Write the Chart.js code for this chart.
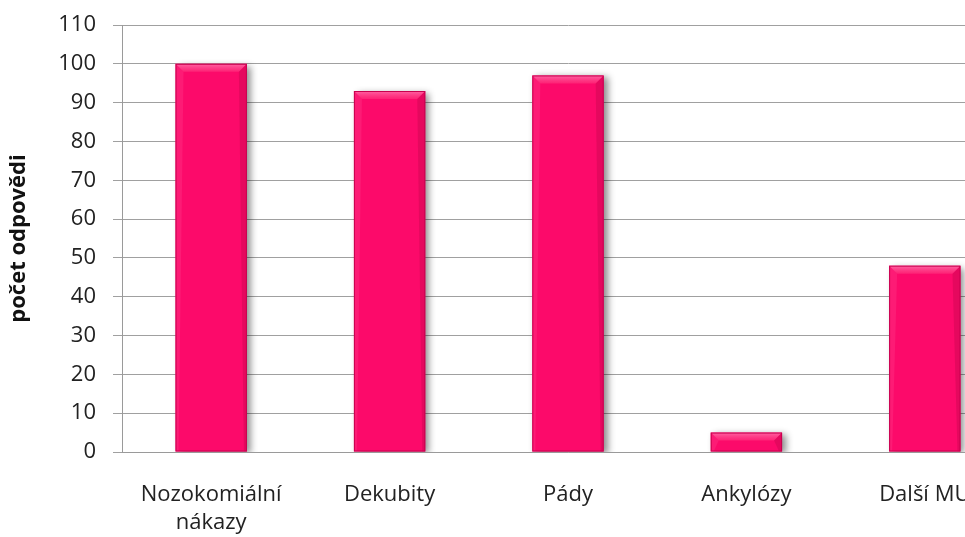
<!DOCTYPE html>
<html><head><meta charset="utf-8">
<script src="https://cdn.jsdelivr.net/npm/chart.js@4/dist/chart.umd.min.js"></script>
<style>
html,body{margin:0;padding:0;background:#fff;overflow:hidden;width:965px;height:537px;}
#wrap{position:relative;width:1020px;height:537px;}
</style></head><body>
<div id="wrap"><canvas id="c" width="1020" height="537"></canvas></div>
<script>
const categories = [['Nozokomiální','nákazy'], 'Dekubity', 'Pády', 'Ankylózy', 'Další MU'];
const values = [100, 93, 97, 5, 48];
const yTicks = [0,10,20,30,40,50,60,70,80,90,100,110];
const yTitle = 'počet odpovědi';

const FONT = '"Open Sans", "Noto Sans", sans-serif';

const shadowPlugin = {
  id: 'shadow',
  beforeDatasetsDraw(chart) {
    const ctx = chart.ctx;
    ctx.save();
    ctx.shadowColor = 'rgba(0,0,0,0.45)';
    ctx.shadowBlur = 7;
    ctx.shadowOffsetX = 4;
    ctx.shadowOffsetY = 2;
  },
  afterDatasetsDraw(chart) {
    const ctx = chart.ctx;
    ctx.restore();
    const meta = chart.getDatasetMeta(0);
    meta.data.forEach(bar => {
      const p = bar.getProps(['x','y','base','width'], true);
      const l = p.x - p.width/2, r = p.x + p.width/2, t = p.y, b = p.base;
      const d = Math.min(8, (b - t)/2);
      ctx.save();
      const g = ctx.createLinearGradient(0, t, 0, t + d);
      g.addColorStop(0, 'rgba(255,110,170,0.9)');
      g.addColorStop(1, 'rgba(255,60,130,0.5)');
      ctx.fillStyle = g;
      ctx.beginPath();
      ctx.moveTo(l, t); ctx.lineTo(r, t); ctx.lineTo(r - d, t + d); ctx.lineTo(l + d, t + d); ctx.closePath(); ctx.fill();
      ctx.fillStyle = 'rgba(255,80,150,0.25)';
      ctx.beginPath();
      ctx.moveTo(l, t); ctx.lineTo(l + d, t + d); ctx.lineTo(l + 3, b); ctx.lineTo(l, b); ctx.closePath(); ctx.fill();
      ctx.fillStyle = 'rgba(140,0,50,0.2)';
      ctx.beginPath();
      ctx.moveTo(r, t); ctx.lineTo(r - d, t + d); ctx.lineTo(r - 3, b); ctx.lineTo(r, b); ctx.closePath(); ctx.fill();
      ctx.strokeStyle = '#c8004f';
      ctx.lineWidth = 1;
      ctx.strokeRect(l + 0.5, t + 0.5, r - l - 1, b - t - 1);
      ctx.restore();
    });
  }
};

new Chart(document.getElementById('c'), {
  type: 'bar',
  data: {
    labels: categories,
    datasets: [{
      data: values,
      backgroundColor: '#fc0a6a',
      borderWidth: 0,
      barPercentage: 0.8,
      categoryPercentage: 0.5
    }]
  },
  options: {
    responsive: false,
    animation: false,
    events: [],
    layout: { padding: { top: 25, right: 6, left: 0, bottom: 0 } },
    plugins: { legend: { display: false }, tooltip: { enabled: false } },
    scales: {
      x: {
        grid: { display: false },
        border: { display: true, color: '#9a9a9a' },
        ticks: { color: '#222', font: { family: FONT, size: 22, lineHeight: 1.3 }, padding: 20, maxRotation: 0, autoSkip: false },
        afterFit(s) { s.height = 85; s.paddingLeft = 0; s.paddingRight = 0; }
      },
      y: {
        min: 0, max: 110,
        afterBuildTicks(s) { s.ticks = yTicks.map(v => ({ value: v })); },
        grid: { color: '#a0a0a0', tickLength: 9, drawTicks: true },
        border: { display: true, color: '#9a9a9a' },
        ticks: { color: '#222', font: { family: FONT, size: 22 }, padding: 17 },
        title: { display: true, text: yTitle, color: '#111', font: { family: FONT, size: 22, weight: 'bold' }, padding: { top: 6, bottom: 10 } },
        afterFit(s) { s.width = 122; s.paddingTop = 0; s.paddingBottom = 0; }
      }
    }
  },
  plugins: [shadowPlugin]
});
</script>
</body></html>
